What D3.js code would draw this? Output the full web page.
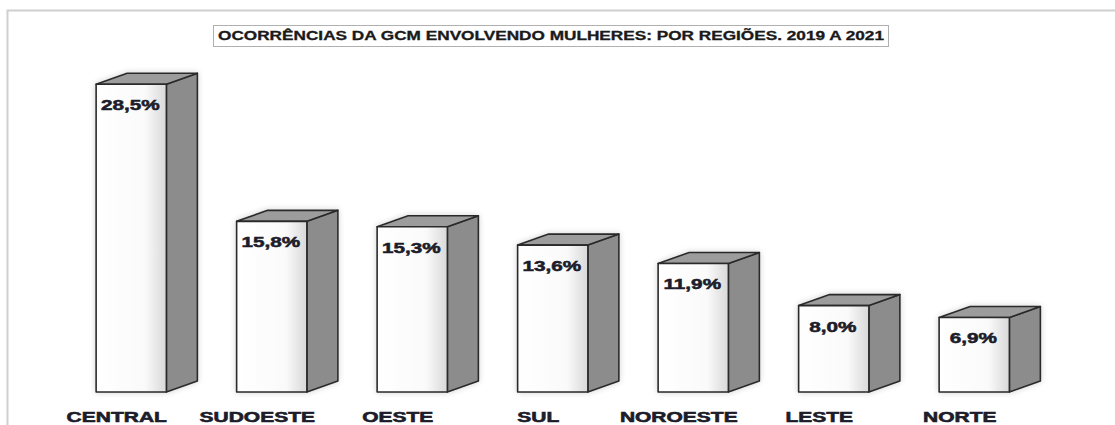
<!DOCTYPE html>
<html>
<head>
<meta charset="utf-8">
<script src="https://cdn.jsdelivr.net/npm/d3@7"></script>
<style>
  html, body { margin: 0; padding: 0; background: #fff; }
  svg { display: block; font-family: "Liberation Sans", Arial, sans-serif; }
</style>
</head>
<body>
<svg id="chart" width="1115" height="425"></svg>
<script>
const title = 'OCORRÊNCIAS DA GCM ENVOLVENDO MULHERES: POR REGIÕES. 2019 A 2021';
const regions = ['CENTRAL', 'SUDOESTE', 'OESTE', 'SUL', 'NOROESTE', 'LESTE', 'NORTE'];
const shares = [28.5, 15.8, 15.3, 13.6, 11.9, 8.0, 6.9];

const width = 1115;
const height = 425;
const depthX = 31;
const depthY = 11;

const fmt = v => v.toFixed(1).replace('.', ',') + '%';

const data = regions.map((r, i) => ({ region: r, value: shares[i] }));

const svg = d3.select('#chart');

const defs = svg.append('defs');
const grad = defs.append('linearGradient')
  .attr('id', 'front')
  .attr('x1', '0%').attr('x2', '100%');
grad.append('stop').attr('offset', '0%').attr('stop-color', '#ffffff');
grad.append('stop').attr('offset', '70%').attr('stop-color', '#fafafa');
grad.append('stop').attr('offset', '100%').attr('stop-color', '#d8d8d8');

const shadow = defs.append('filter').attr('id', 'soft')
  .attr('x', '-20%').attr('y', '-10%').attr('width', '140%').attr('height', '120%');
shadow.append('feGaussianBlur').attr('in', 'SourceAlpha').attr('stdDeviation', 3).attr('result', 'b');
shadow.append('feComponentTransfer').attr('in', 'b').attr('result', 'c')
  .append('feFuncA').attr('type', 'linear').attr('slope', 0.18);
const merge = shadow.append('feMerge');
merge.append('feMergeNode').attr('in', 'c');
merge.append('feMergeNode').attr('in', 'SourceGraphic');

// outer frame
svg.append('path')
  .attr('d', `M${width},10.5 H7.5 V${height}`)
  .attr('fill', 'none')
  .attr('stroke', '#cfcfcf')
  .attr('stroke-width', 2);

const x = d3.scaleBand()
  .domain(regions)
  .range([61, 1044.5])
  .paddingInner(0.5)
  .paddingOuter(0.25);

const y = d3.scaleLinear()
  .domain([0, 30])
  .range([392, 68]);

// title box
const tg = svg.append('g');
tg.append('rect')
  .attr('x', 213.5).attr('y', 25.5)
  .attr('width', 675).attr('height', 21)
  .attr('fill', '#fff')
  .attr('stroke', '#b0b0b0');
tg.append('text')
  .attr('x', 551).attr('y', 40)
  .attr('text-anchor', 'middle')
  .attr('font-size', 12)
  .attr('font-weight', 'bold')
  .attr('fill', '#1a1a1a')
  .attr('stroke', '#1a1a1a')
  .attr('stroke-width', 0.3)
  .attr('textLength', 666)
  .attr('lengthAdjust', 'spacingAndGlyphs')
  .text(title);

const bars = svg.append('g')
  .selectAll('g')
  .data(data)
  .join('g')
  .attr('filter', 'url(#soft)');

const outline = sel => sel
  .attr('stroke', '#2a2a2a')
  .attr('stroke-width', 1.6)
  .attr('stroke-linejoin', 'round');

// side face
bars.append('path')
  .attr('d', d => {
    const x1 = x(d.region) + x.bandwidth();
    const yt = y(d.value), yb = y(0);
    return `M${x1},${yt} L${x1 + depthX},${yt - depthY} L${x1 + depthX},${yb - depthY} L${x1},${yb} Z`;
  })
  .attr('fill', '#8c8c8c')
  .call(outline);

// top face
bars.append('path')
  .attr('d', d => {
    const x0 = x(d.region), x1 = x0 + x.bandwidth();
    const yt = y(d.value);
    return `M${x0},${yt} L${x0 + depthX},${yt - depthY} L${x1 + depthX},${yt - depthY} L${x1},${yt} Z`;
  })
  .attr('fill', '#9c9c9c')
  .call(outline);

// front face
bars.append('rect')
  .attr('x', d => x(d.region))
  .attr('y', d => y(d.value))
  .attr('width', x.bandwidth())
  .attr('height', d => y(0) - y(d.value))
  .attr('fill', 'url(#front)')
  .call(outline);

// value labels
svg.append('g')
  .selectAll('text')
  .data(data)
  .join('text')
  .attr('transform', d => `translate(${x(d.region) + x.bandwidth() / 2 - 1},${y(d.value) + 26}) scale(1.48,1)`)
  .attr('text-anchor', 'middle')
  .attr('font-size', 14)
  .attr('font-weight', 'bold')
  .attr('fill', '#1c1c2a')
  .attr('stroke', '#1c1c2a')
  .attr('stroke-width', 0.5)
  .text(d => fmt(d.value));

// category labels
svg.append('g')
  .selectAll('text')
  .data(data)
  .join('text')
  .attr('transform', d => `translate(${x(d.region) + x.bandwidth() / 2 - 14.5},422) scale(1.4,1)`)
  .attr('text-anchor', 'middle')
  .attr('font-size', 15)
  .attr('font-weight', 'bold')
  .attr('fill', '#1c1c2a')
  .attr('stroke', '#1c1c2a')
  .attr('stroke-width', 0.6)
  .text(d => d.region);
</script>
</body>
</html>
